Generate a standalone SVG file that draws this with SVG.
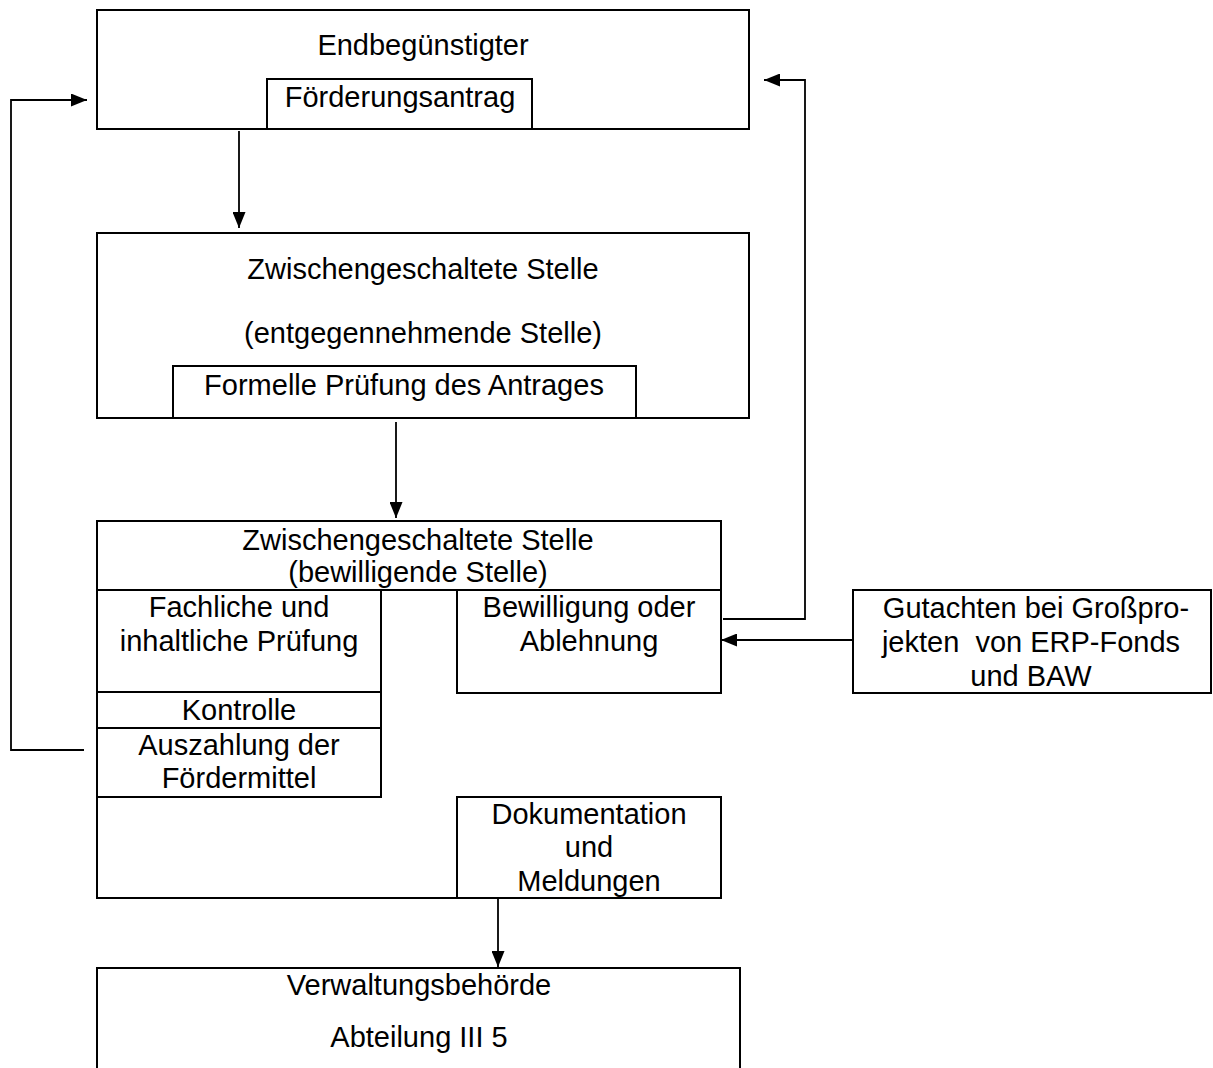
<svg xmlns="http://www.w3.org/2000/svg" width="1213" height="1068" viewBox="0 0 1213 1068">
<style>
.b{fill:none;stroke:#000;stroke-width:2}
.c{fill:none;stroke:#000;stroke-width:1.8}
text{font-family:"Liberation Sans",Arial,sans-serif;font-size:29px;fill:#000;text-anchor:middle}
</style>
<defs>
<marker id="ah" viewBox="0 0 16 13" refX="16" refY="6.5" markerWidth="16" markerHeight="13" markerUnits="userSpaceOnUse" orient="auto">
<path d="M0,0 L16,6.5 L0,13 Z" fill="#000"/>
</marker>
</defs>
<rect width="1213" height="1068" fill="#fff"/>
<g id="endbeguenstigter">
<rect class="b" x="97" y="10" width="652" height="119"/>
<text x="423" y="55">Endbegünstigter</text>
<path class="b" d="M267,129 V79 H532 V129"/>
<text x="400" y="107">Förderungsantrag</text>
</g>
<g id="entgegennehmende">
<rect class="b" x="97" y="233" width="652" height="185"/>
<text x="423" y="279">Zwischengeschaltete Stelle</text>
<text x="423" y="343">(entgegennehmende Stelle)</text>
<path class="b" d="M173,418 V366 H636 V418"/>
<text x="404" y="395">Formelle Prüfung des Antrages</text>
</g>
<g id="bewilligende">
<rect class="b" x="97" y="521" width="624" height="69"/>
<text x="418" y="550">Zwischengeschaltete Stelle</text>
<text x="418" y="582">(bewilligende Stelle)</text>
<path class="b" d="M97,590 V898 H457"/>
<path class="b" d="M381,590 V797 H97 M97,692 H381 M97,728 H381"/>
<text x="239" y="617">Fachliche und</text>
<text x="239" y="651">inhaltliche Prüfung</text>
<text x="239" y="720">Kontrolle</text>
<text x="239" y="755">Auszahlung der</text>
<text x="239" y="788">Fördermittel</text>
</g>
<g id="bewilligung">
<rect class="b" x="457" y="590" width="264" height="103"/>
<text x="589" y="617">Bewilligung oder</text>
<text x="589" y="651">Ablehnung</text>
</g>
<g id="dokumentation">
<rect class="b" x="457" y="797" width="264" height="101"/>
<text x="589" y="824">Dokumentation</text>
<text x="589" y="857">und</text>
<text x="589" y="891">Meldungen</text>
</g>
<g id="gutachten">
<rect class="b" x="853" y="590" width="358" height="103"/>
<text x="1036" y="618">Gutachten bei Großpro-</text>
<text x="1031" y="652" xml:space="preserve">jekten  von ERP-Fonds</text>
<text x="1031" y="686">und BAW</text>
</g>
<g id="verwaltungsbehoerde">
<path class="b" d="M97,1070 V968 H740 V1070"/>
<text x="419" y="995">Verwaltungsbehörde</text>
<text x="419" y="1047">Abteilung III 5</text>
</g>
<g id="connectors">
<path class="c" d="M239,131 V228" marker-end="url(#ah)"/>
<path class="c" d="M396,422 V518" marker-end="url(#ah)"/>
<path class="c" d="M498,899 V967" marker-end="url(#ah)"/>
<path class="c" d="M852,640 H721" marker-end="url(#ah)"/>
<path class="c" d="M723,619 H805 V80 H764" marker-end="url(#ah)"/>
<path class="c" d="M84,750 H11 V100 H87" marker-end="url(#ah)"/>
</g>
</svg>
